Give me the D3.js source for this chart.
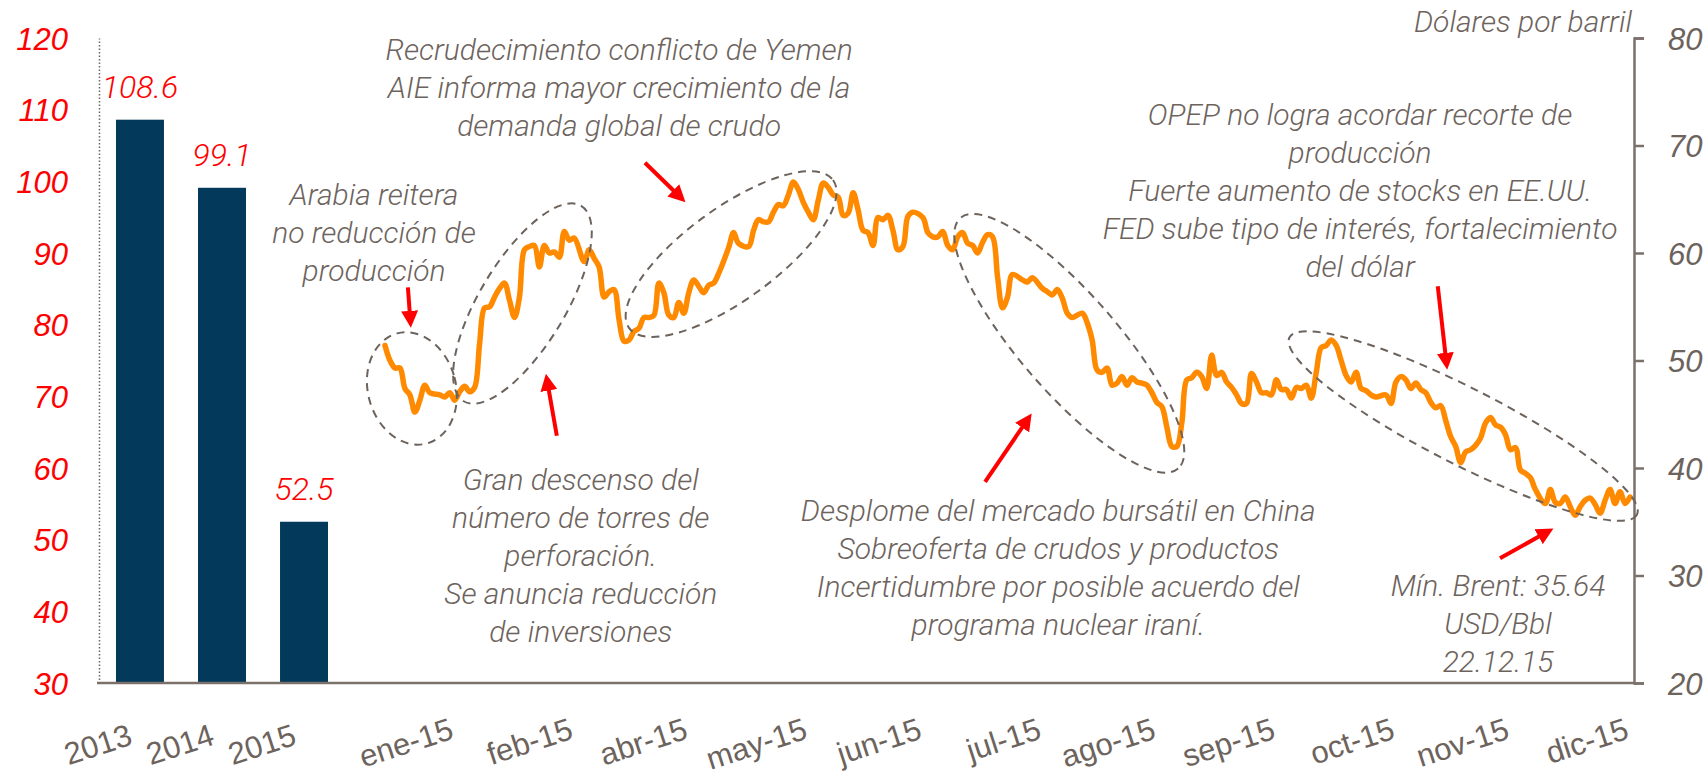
<!DOCTYPE html>
<html>
<head>
    <meta charset="UTF-8">
    <title>Brent 2015</title>
    <script src="https://d3js.org/d3.v7.min.js"></script>
    <style>
        body { margin: 0; background: #ffffff; }
        svg { display: block; font-family: Roboto, "Open Sans", sans-serif; }
        .ann { fill: #6d635d; font-size: 30px; font-style: italic; font-weight: 300; }
        .redtxt { fill: #ff0000; font-style: italic; font-weight: 300; }
        .graytxt { fill: #6d635d; font-weight: 300; }
    </style>
</head>
<body>
<svg id="chart" width="1708" height="777"></svg>
<script>
    // promedios anuales (eje izquierdo)
    const years = ['2013', '2014', '2015'];
    const annualAvg = [108.6, 99.1, 52.5];
    const leftTicks = [30, 40, 50, 60, 70, 80, 90, 100, 110, 120];

    // Brent diario 2015 (eje derecho) : [día hábil, USD/bbl]
    const rightTicks = [20, 30, 40, 50, 60, 70, 80];
    const monthLabels = ['ene-15', 'feb-15', 'abr-15', 'may-15', 'jun-15', 'jul-15', 'ago-15', 'sep-15', 'oct-15', 'nov-15', 'dic-15'];
    const monthLabelDays = [14, 38, 61, 85, 108, 132, 155, 179, 203, 226, 250];
    const brent = [
        [0,51.4],[1,50.0],[2,49.3],[3,49.3],[4,47.4],[5,46.8],[6,45.2],[7,46.3],[8,47.7],[9,47.0],
        [11,46.8],[12,46.6],[13,47.0],[14,46.3],[15,47.1],[16,47.6],[17,47.1],[18,47.5],[19,51.6],[20,54.9],
        [21,55.0],[22,55.9],[23,56.7],[24,57.2],[25,55.6],[26,54.0],[27,55.9],[28,60.3],[29,60.6],[30,60.7],
        [31,58.7],[32,60.7],[33,60.0],[34,60.1],[35,59.6],[36,62.0],[37,61.2],[38,61.4],[40,59.2],[41,60.3],
        [42,59.5],[43,58.7],[44,55.9],[45,56.4],[46,56.6],[47,53.8],[48,51.8],[49,51.9],[50,52.7],[51,53.0],
        [52,54.0],[53,54.0],[54,54.2],[55,57.2],[56,56.3],[57,54.2],[58,54.0],[59,55.4],[60,54.4],[61,56.3],
        [62,57.5],[63,56.9],[64,56.3],[65,57.0],[66,57.2],[67,58.1],[69,60.5],[70,61.9],[71,60.9],[73,60.6],
        [74,62.1],[75,63.1],[76,62.9],[77,62.9],[78,63.8],[79,64.5],[80,64.4],[81,65.4],[82,66.6],[83,65.9],
        [84,64.7],[85,63.8],[86,63.1],[87,64.9],[88,66.5],[89,66.1],[90,65.4],[91,65.2],[92,63.5],[93,63.7],
        [94,65.6],[95,64.0],[96,62.1],[97,61.9],[98,60.7],[99,63.3],[100,63.1],[101,63.5],[102,62.1],[103,60.3],
        [104,60.6],[105,63.4],[106,63.8],[108,63.3],[109,61.9],[110,61.5],[111,61.5],[112,62.0],[113,60.7],[114,60.3],
        [115,61.5],[116,61.9],[117,60.9],[118,60.7],[119,60.0],[120,61.0],[121,61.7],[122,61.5],[123,57.8],[124,54.9],
        [125,55.9],[126,58.0],[128,57.5],[129,57.3],[130,57.7],[132,56.7],[133,56.4],[134,56.1],[135,56.6],[136,55.8],
        [137,54.4],[138,54.0],[140,54.4],[141,53.5],[142,51.9],[143,49.1],[144,48.9],[145,49.3],[146,47.7],[147,47.9],
        [148,48.5],[149,47.7],[150,48.4],[151,48.0],[152,47.9],[153,47.7],[154,47.0],[155,46.1],[156,45.7],[157,43.8],
        [158,42.0],[159,42.0],[160,44.2],[161,48.2],[162,48.4],[163,48.9],[164,48.5],[165,47.4],[166,50.5],[167,48.6],
        [168,48.9],[169,48.0],[170,47.5],[171,46.8],[172,46.0],[173,46.0],[174,48.8],[175,48.0],[176,47.0],[177,47.0],
        [178,46.8],[179,48.2],[180,47.3],[181,47.3],[182,46.5],[183,47.5],[184,47.4],[185,47.7],[186,46.5],[187,48.9],
        [188,51.2],[189,51.4],[190,51.9],[191,51.4],[192,50.0],[193,48.6],[194,48.0],[195,48.9],[196,47.4],[197,47.2],
        [198,46.8],[199,46.6],[201,46.8],[202,46.0],[203,48.0],[204,48.5],[205,48.2],[206,47.4],[207,47.9],[208,47.3],
        [209,47.0],[210,46.1],[211,45.6],[212,45.8],[213,44.4],[214,42.9],[215,42.0],[216,40.5],[217,41.5],[218,41.7],
        [219,42.1],[220,42.8],[221,44.2],[222,44.7],[223,44.0],[224,43.8],[225,43.1],[226,41.7],[227,41.9],[228,39.8],
        [229,39.5],[230,39.1],[231,38.0],[233,36.7],[234,38.0],[235,36.8],[236,36.7],[237,37.3],[238,36.4],[239,35.6],
        [240,36.4],[241,37.0],[242,37.2],[243,36.6],[244,35.8],[245,37.0],[246,38.0],[247,36.7],[248,37.8],[249,36.7],
        [250,37.3]
    ];

    // textos de eventos: posición en coordenadas de datos (día, USD)
    const notes = [
        { lines: ['Recrudecimiento conflicto de Yemen', 'AIE informa mayor crecimiento de la', 'demanda global de crudo'], day: 47.0, usd: 78.0 },
        { lines: ['Arabia reitera', 'no reducción de', 'producción'], day: -2.2, usd: 64.5 },
        { lines: ['Gran descenso del', 'número de torres de', 'perforación.', 'Se anuncia reducción', 'de inversiones'], day: 39.3, usd: 38.0 },
        { lines: ['Desplome del mercado bursátil en China', 'Sobreoferta de crudos y productos', 'Incertidumbre por posible acuerdo del', 'programa nuclear iraní.'], day: 135.2, usd: 35.1 },
        { lines: ['OPEP no logra acordar recorte de', 'producción', 'Fuerte aumento de stocks en EE.UU.', 'FED sube tipo de interés, fortalecimiento', 'del dólar'], day: 195.8, usd: 71.9 },
        { lines: ['Mín. Brent: 35.64', 'USD/Bbl', '22.12.15'], day: 223.5, usd: 28.1 }
    ];
    const arrows = [
        [[4.6, 56.8], [5.2, 53.0]],
        [[34.5, 43.0], [32.3, 48.8]],
        [[52.2, 68.4], [60.4, 64.7]],
        [[120.5, 38.7], [129.9, 45.1]],
        [[211.4, 56.9], [213.3, 49.1]],
        [[223.9, 31.6], [234.7, 34.4]]
    ];
    const rings = [
        { day: 5.4, usd: 47.4, rx: 44, ry: 57, rot: -15 },
        { day: 27.6, usd: 55.3, rx: 114, ry: 43, rot: -59 },
        { day: 69.5, usd: 59.9, rx: 126, ry: 46, rot: -36 },
        { day: 137.4, usd: 51.6, rx: 166, ry: 49, rot: 49 },
        { day: 216.5, usd: 43.9, rx: 195, ry: 38, rot: 27 }
    ];

    const svg = d3.select('#chart');
    const yTop = 38, yBase = 683;
    const gray = '#6d635d';

    const yL = d3.scaleLinear().domain([30, 120]).range([yBase, yTop]);
    const yR = d3.scaleLinear().domain([20, 80]).range([yBase, yTop]);
    const xBar = d3.scaleBand().domain(years).range([99, 345]).paddingInner(0.415).paddingOuter(0.207);
    const x = d3.scaleLinear().domain([0, 250]).range([385, 1630]);

    // barras
    svg.selectAll('.bar')
        .data(years)
        .enter().append('rect')
        .attr('class', 'bar')
        .attr('x', d => xBar(d))
        .attr('width', xBar.bandwidth())
        .attr('y', (d, i) => yL(annualAvg[i]))
        .attr('height', (d, i) => yBase - yL(annualAvg[i]))
        .attr('fill', '#033a5c');

    svg.selectAll('.barlabel')
        .data(years)
        .enter().append('text')
        .attr('class', 'redtxt')
        .attr('x', d => xBar(d) + xBar.bandwidth() / 2)
        .attr('y', (d, i) => yL(annualAvg[i]) - 22)
        .attr('text-anchor', 'middle')
        .style('font-size', '32px')
        .text((d, i) => annualAvg[i]);

    // eje izquierdo
    const axL = svg.append('g')
        .attr('transform', 'translate(99,0)')
        .call(d3.axisLeft(yL).tickValues(leftTicks).tickSize(0).tickSizeOuter(0).tickPadding(31));
    axL.select('.domain').attr('stroke', '#6d635d').attr('stroke-width', 1.5).attr('stroke-dasharray', '1.5,2');
    axL.selectAll('text').attr('class', 'redtxt').attr('fill', null).style('font-size', '31px').attr('dy', '0.36em');

    // eje derecho
    const axR = svg.append('g')
        .attr('transform', 'translate(1634,0)')
        .call(d3.axisRight(yR).tickValues(rightTicks).tickSize(10).tickSizeOuter(10).tickPadding(24));
    axR.select('.domain').attr('stroke', '#7b716b').attr('stroke-width', 2.5);
    axR.selectAll('line').attr('stroke', '#7b716b').attr('stroke-width', 2.5);
    axR.selectAll('text').attr('class', 'graytxt').attr('fill', null)
        .style('font-size', '31px').style('font-style', 'italic').attr('dy', '0.36em');

    svg.append('text')
        .attr('class', 'ann')
        .attr('x', 1632).attr('y', 32)
        .attr('text-anchor', 'end')
        .text('Dólares por barril');

    // línea base
    svg.append('line')
        .attr('x1', 97).attr('x2', 1634)
        .attr('y1', yBase).attr('y2', yBase)
        .attr('stroke', '#7b716b').attr('stroke-width', 2.5);

    // etiquetas eje x
    const axB = svg.append('g')
        .attr('transform', `translate(0,${yBase})`)
        .call(d3.axisBottom(x).tickValues(monthLabelDays).tickFormat((d, i) => monthLabels[i]).tickSize(0));
    axB.select('.domain').remove();
    axB.selectAll('text')
        .attr('class', 'graytxt').attr('fill', null)
        .attr('y', 0).attr('dy', 0)
        .attr('text-anchor', 'end')
        .attr('transform', 'translate(0,55) rotate(-18)')
        .style('font-size', '31px');

    const axBar = svg.append('g')
        .attr('transform', `translate(0,${yBase})`)
        .call(d3.axisBottom(xBar).tickSize(0));
    axBar.select('.domain').remove();
    axBar.selectAll('text')
        .attr('class', 'graytxt').attr('fill', null)
        .attr('y', 0).attr('dy', 0)
        .attr('text-anchor', 'end')
        .attr('transform', 'translate(-6,61) rotate(-18)')
        .style('font-size', '31px');

    // línea Brent
    const line = d3.line()
        .x(d => x(d[0]))
        .y(d => yR(d[1]))
        .curve(d3.curveCatmullRom.alpha(0.5));

    svg.append('path')
        .datum(brent)
        .attr('d', line)
        .attr('fill', 'none')
        .attr('stroke', '#ff8a00')
        .attr('stroke-width', 5.5)
        .attr('stroke-linejoin', 'round')
        .attr('stroke-linecap', 'round');

    // elipses punteadas
    svg.selectAll('.ring')
        .data(rings)
        .enter().append('ellipse')
        .attr('transform', d => `translate(${x(d.day)},${yR(d.usd)}) rotate(${d.rot})`)
        .attr('rx', d => d.rx)
        .attr('ry', d => d.ry)
        .attr('fill', 'none')
        .attr('stroke', gray)
        .attr('stroke-width', 2)
        .attr('stroke-dasharray', '8,6');

    // flechas
    svg.append('defs').append('marker')
        .attr('id', 'head')
        .attr('markerUnits', 'userSpaceOnUse')
        .attr('viewBox', '0 0 10 10')
        .attr('refX', 2).attr('refY', 5)
        .attr('markerWidth', 17).attr('markerHeight', 17)
        .attr('orient', 'auto')
        .append('path')
        .attr('d', 'M0,0L10,5L0,10Z')
        .attr('fill', '#ff0000');

    svg.selectAll('.arrow')
        .data(arrows)
        .enter().append('line')
        .attr('x1', d => x(d[0][0]))
        .attr('y1', d => yR(d[0][1]))
        .attr('x2', d => {
            // acortar para que la punta quede en el destino
            const dx = x(d[1][0]) - x(d[0][0]), dy = yR(d[1][1]) - yR(d[0][1]);
            const len = Math.hypot(dx, dy);
            return x(d[1][0]) - dx / len * 14;
        })
        .attr('y2', d => {
            const dx = x(d[1][0]) - x(d[0][0]), dy = yR(d[1][1]) - yR(d[0][1]);
            const len = Math.hypot(dx, dy);
            return yR(d[1][1]) - dy / len * 14;
        })
        .attr('stroke', '#ff0000')
        .attr('stroke-width', 4)
        .attr('marker-end', 'url(#head)');

    // textos
    notes.forEach(n => {
        const t = svg.append('text')
            .attr('class', 'ann')
            .attr('text-anchor', 'middle');
        n.lines.forEach((s, i) => {
            t.append('tspan')
                .attr('x', x(n.day))
                .attr('y', yR(n.usd) + i * 38)
                .text(s);
        });
    });
</script>
</body>
</html>
